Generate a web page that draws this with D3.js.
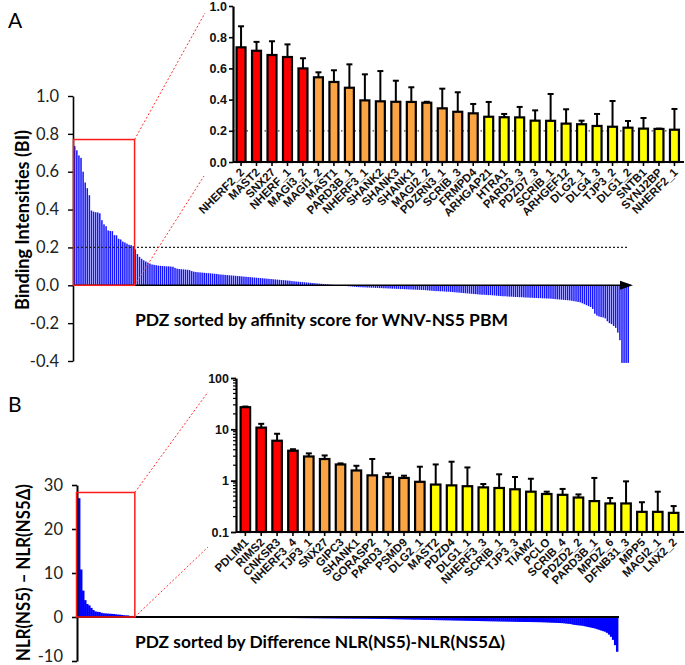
<!DOCTYPE html>
<html><head><meta charset="utf-8">
<script src="https://cdn.jsdelivr.net/npm/d3@7"></script>
<style>body{margin:0;background:#fff} svg{display:block}</style>
</head><body>
<svg id="c" width="685" height="665"></svg>
<script>
// ---------------- DATA ----------------
// Panel A: binding intensities of all PDZ domains, sorted
const mainA = [
 0.735,0.713,0.686,0.673,0.600,0.543,0.513,0.476,0.395,0.389,0.386,0.385,0.380,0.344,0.322,0.312,0.290,0.287,0.286,0.265,0.264,0.246,0.242,0.231,0.226,0.220,0.214,0.212,0.207,
 0.190,0.165,0.150,0.140,0.132,0.126,0.120,0.115,0.110,0.108,0.106,0.104,
 0.103,0.102,0.101,0.100,0.100,0.099,0.098,0.092,0.088,0.086,
 0.085,0.084,0.083,0.082,0.080,0.075,0.072,0.070,0.069,0.068,
 0.067,0.066,0.065,0.064,0.063,0.062,0.061,0.060,0.058,0.057,
 0.056,0.055,0.054,0.053,0.052,0.051,0.050,0.049,0.048,0.047,
 0.046,0.045,0.044,0.043,0.042,0.041,0.040,0.039,0.038,0.037,
 0.036,0.035,0.034,0.033,0.032,0.031,0.030,0.029,0.028,0.027,
 0.026,0.025,0.024,0.022,0.021,0.020,0.019,0.018,0.017,0.016,
 0.015,0.014,0.013,0.012,0.011,0.010,0.009,0.008,0.007,0.006,
 0.005,0.004,0.003,0.002,0.001,0.000,-0.001,-0.002,-0.003,-0.004,
 -0.005,-0.006,-0.007,-0.008,-0.009,-0.010,-0.010,-0.011,-0.011,-0.012,
 -0.012,-0.013,-0.013,-0.014,-0.014,-0.015,-0.015,-0.016,-0.016,-0.017,
 -0.017,-0.018,-0.018,-0.019,-0.019,-0.020,-0.020,-0.021,-0.021,-0.022,
 -0.022,-0.023,-0.023,-0.024,-0.024,-0.025,-0.025,-0.026,-0.027,-0.028,
 -0.029,-0.030,-0.031,-0.031,-0.032,-0.032,-0.033,-0.034,-0.034,-0.035,
 -0.036,-0.037,-0.038,-0.039,-0.040,-0.041,-0.042,-0.043,-0.044,-0.045,
 -0.046,-0.047,-0.048,-0.049,-0.050,-0.050,-0.051,-0.052,-0.052,-0.053,
 -0.054,-0.055,-0.056,-0.057,-0.058,-0.058,-0.059,-0.060,-0.060,-0.061,
 -0.062,-0.062,-0.063,-0.063,-0.064,-0.065,-0.065,-0.066,-0.066,-0.067,
 -0.067,-0.068,-0.068,-0.069,-0.069,-0.070,-0.070,-0.071,-0.072,-0.073,
 -0.074,-0.075,-0.076,-0.077,-0.078,-0.079,-0.080,-0.082,-0.084,-0.086,
 -0.088,-0.090,-0.095,-0.100,-0.105,-0.110,-0.115,-0.125,-0.150,-0.160,
 -0.165,-0.168,-0.170,-0.175,-0.190,-0.200,-0.205,-0.215,-0.225,-0.250,
 -0.290,-0.410,-0.410,-0.410,-0.410
];
const mainATicks = [1.0,0.8,0.6,0.4,0.2,0.0,-0.2,-0.4];

const insetALabels = ["NHERF2_2","MAST2","SNX27","NHERF_1","MAGI3_2","MAGI1_2","MAST1","PARD3B_1","NHERF3_1","SHANK2","SHANK3","SHANK1","MAGI2_2","PDZRN3_1","SCRIB_3","FRMPD4","ARHGAP21","HTRA1","PARD3_3","PDZD7_3","SCRIB_1","ARHGEF12","DLG2_1","DLG4_3","TJP3_2","DLG1_2","SNTB1","SYNJ2BP","NHERF2_1"];
const insetAValues = [0.735,0.713,0.686,0.673,0.600,0.543,0.513,0.476,0.395,0.389,0.386,0.385,0.380,0.344,0.322,0.312,0.290,0.287,0.286,0.265,0.264,0.246,0.242,0.231,0.226,0.220,0.214,0.212,0.207];
const insetAErrTop = [0.870,0.770,0.774,0.754,0.665,0.575,0.588,0.626,0.562,0.583,0.521,0.479,0.386,0.470,0.447,0.372,0.385,0.308,0.353,0.331,0.436,0.338,0.265,0.308,0.391,0.263,0.282,0.214,0.340];
const insetAGroups = ["r","r","r","r","r","o","o","o","o","o","o","o","o","o","o","o","y","y","y","y","y","y","y","y","y","y","y","y","y"];
const insetATicks = [0.0,0.2,0.4,0.6,0.8,1.0];

// Panel B: NLR difference of all PDZ domains, sorted
const mainB = [
 27,10.8,6.0,3.83,2.96,2.64,2.07,1.58,1.27,1.18,1.13,0.95,0.84,0.81,0.78,0.74,0.72,0.68,0.61,0.55,0.53,0.47,0.40,0.36,0.36,0.247,0.247,0.236,
 0.23,0.23,0.22,0.22,0.21,0.21,0.20,0.20,0.20,0.19,0.19,0.19,
 0.18,0.18,0.18,0.17,0.17,0.17,0.16,0.16,0.16,0.15,0.15,0.15,
 0.14,0.14,0.13,0.13,0.12,0.12,0.11,0.11,0.10,0.10,0.09,0.09,
 0.08,0.07,0.06,0.05,0.04,0.03,0.02,0.01,0.00,-0.01,-0.02,-0.03,
 -0.04,-0.05,-0.06,-0.07,-0.08,-0.09,-0.10,-0.10,-0.11,-0.12,-0.12,-0.13,
 -0.14,-0.14,-0.15,-0.15,-0.16,-0.17,-0.17,-0.18,-0.18,-0.19,-0.20,-0.20,
 -0.21,-0.21,-0.22,-0.22,-0.23,-0.23,-0.24,-0.24,-0.25,-0.25,-0.26,-0.26,
 -0.27,-0.27,-0.28,-0.28,-0.29,-0.29,-0.30,-0.30,-0.31,-0.31,-0.32,-0.32,
 -0.33,-0.33,-0.34,-0.34,-0.35,-0.35,-0.36,-0.36,-0.37,-0.37,-0.38,-0.38,
 -0.39,-0.39,-0.40,-0.40,-0.41,-0.41,-0.42,-0.42,-0.43,-0.43,-0.44,-0.44,
 -0.45,-0.45,-0.46,-0.46,-0.47,-0.48,-0.49,-0.50,-0.51,-0.52,-0.53,-0.54,
 -0.55,-0.56,-0.57,-0.58,-0.59,-0.60,-0.61,-0.62,-0.63,-0.64,-0.65,-0.66,
 -0.67,-0.68,-0.69,-0.70,-0.71,-0.72,-0.73,-0.74,-0.75,-0.76,-0.77,-0.78,
 -0.79,-0.80,-0.81,-0.82,-0.83,-0.84,-0.85,-0.86,-0.87,-0.88,-0.89,-0.90,
 -0.91,-0.92,-0.93,-0.94,-0.95,-0.96,-0.97,-0.98,-0.99,-1.00,-1.01,-1.02,
 -1.03,-1.04,-1.05,-1.06,-1.07,-1.08,-1.09,-1.10,-1.11,-1.12,-1.12,-1.13,
 -1.13,-1.14,-1.14,-1.15,-1.16,-1.17,-1.18,-1.19,-1.20,-1.22,-1.24,-1.26,
 -1.28,-1.30,-1.32,-1.34,-1.36,-1.38,-1.40,-1.45,-1.50,-1.55,-1.60,-1.70,
 -1.80,-1.85,-1.90,-1.95,-2.00,-2.10,-2.20,-2.30,-2.40,-2.50,-2.60,-2.75,
 -2.90,-3.05,-3.20,-3.35,-3.60,-4.00,-4.50,-5.20,-6.40,-7.90
];
const mainBTicks = [30,20,10,0,-10];

const insetBLabels = ["PDLIM1","RIMS2","CNKSR3","NHERF3_4","TJP3_1","SNX27","GIPC3","SHANK1","GORASP2","PARD3_1","PSMD9","DLG2_1","MAST2","PDZD4","DLG1_1","NHERF3_3","SCRIB_1","TJP3_3","TIAM2","PCLO","SCRIB_4","PDZD2_2","PARD3B_1","MPDZ_6","DFNB31_3","MPP5","MAGI2_1","LNX2_2"];
const insetBValues = [27,10.8,6.0,3.83,2.96,2.64,2.07,1.58,1.27,1.18,1.13,0.95,0.84,0.81,0.78,0.74,0.72,0.68,0.61,0.55,0.53,0.47,0.40,0.36,0.36,0.247,0.247,0.236];
const insetBErrTop = [27.8,12.8,8.2,4.1,3.4,3.1,2.17,1.95,2.64,1.39,1.25,1.87,2.07,2.34,1.81,0.86,1.33,1.18,1.09,0.61,0.69,0.54,1.13,0.46,0.97,0.38,0.61,0.32];
const insetBGroups = ["r","r","r","r","o","o","o","o","o","o","o","o","y","y","y","y","y","y","y","y","y","y","y","y","y","y","y","y"];
const insetBTicks = [0.1,1,10,100];

const groupColor = {r:"#ff0000", o:"#fba443", y:"#ffff00"};

// ---------------- DRAW ----------------
const svg = d3.select("#c");
const FONT = "Lato, 'Open Sans', sans-serif";
const AFONT = "'Liberation Sans', Arial, sans-serif";
const dash = s => String(s).replace("\u2212","-");

// ===== Panel A main =====
const xA = d3.scaleBand().domain(d3.range(mainA.length)).range([74, 629]).paddingInner(0.28);
const yA = d3.scaleLinear().domain([-0.4, 1.0]).range([361, 96]);
const gA = svg.append("g");

gA.append("g").selectAll("rect").data(mainA).join("rect")
  .attr("x", (d,i) => xA(i)).attr("width", xA.bandwidth())
  .attr("y", d => Math.min(yA(d), yA(0))).attr("height", d => Math.abs(yA(d) - yA(0)))
  .attr("fill", "#1414ff");

gA.append("line").attr("x1", 73).attr("x2", 628).attr("y1", yA(0.2)).attr("y2", yA(0.2))
  .attr("stroke", "#222").attr("stroke-width", 1.3).attr("stroke-dasharray", "2,2");

const axA = gA.append("g").attr("transform", "translate(73,0)")
  .call(d3.axisLeft(yA).tickValues(mainATicks).tickFormat(d => dash(d3.format(".1f")(d))).tickSize(5).tickSizeOuter(0).tickPadding(9));
axA.select(".domain").attr("stroke-width", 1.6);
axA.selectAll(".tick line").attr("stroke-width", 1.4);
axA.selectAll("text").attr("font-family", FONT).attr("font-size", 16.5).attr("fill", "#222");

gA.append("line").attr("x1", 73).attr("x2", 622).attr("y1", yA(0)).attr("y2", yA(0)).attr("stroke", "#000").attr("stroke-width", 1.6);
gA.append("path").attr("d", `M620,${yA(0)-4.5}L633,${yA(0)}L620,${yA(0)+4.5}Z`).attr("fill", "#000");

gA.append("text").attr("x", 135).attr("y", 326)
  .attr("font-family", FONT).attr("font-weight", 700).attr("font-size", 17.5)
  .attr("textLength", 373).attr("lengthAdjust", "spacingAndGlyphs")
  .text("PDZ sorted by affinity score for WNV-NS5 PBM");
gA.append("text").attr("transform", "translate(29,310) rotate(-90)")
  .attr("font-family", FONT).attr("font-weight", 700).attr("font-size", 19)
  .attr("textLength", 180).attr("lengthAdjust", "spacingAndGlyphs")
  .text("Binding Intensities (BI)");
svg.append("text").attr("x", 8).attr("y", 28).attr("font-family", FONT).attr("font-size", 21).text("A");

const boxAR = xA.range()[0] + insetALabels.length * xA.step();
gA.append("rect").attr("x", 73.5).attr("y", yA(0.77)).attr("width", boxAR - 73.5).attr("height", yA(0) - yA(0.77))
  .attr("fill", "none").attr("stroke", "#ff1a1a").attr("stroke-width", 1.5);
gA.append("line").attr("x1", boxAR).attr("y1", yA(0.77)).attr("x2", 205).attr("y2", 13)
  .attr("stroke", "#ff3030").attr("stroke-width", 1).attr("stroke-dasharray", "2,2");
gA.append("line").attr("x1", boxAR).attr("y1", yA(0)).attr("x2", 204).attr("y2", 176)
  .attr("stroke", "#ff3030").attr("stroke-width", 1).attr("stroke-dasharray", "2,2");

// ===== Panel A inset =====
const xIA = d3.scaleBand().domain(insetALabels).range([233, 682.5]).paddingInner(0.42).paddingOuter(0.23);
const yIA = d3.scaleLinear().domain([0, 1]).range([162, 6]);
const gIA = svg.append("g");
gIA.append("line").attr("x1", 233).attr("x2", 680).attr("y1", yIA(0.2)).attr("y2", yIA(0.2))
  .attr("stroke", "#444").attr("stroke-width", 1.2).attr("stroke-dasharray", "1.5,3");
insetALabels.forEach((l, i) => {
  const cx = xIA(l) + xIA.bandwidth()/2;
  gIA.append("line").attr("x1", cx).attr("x2", cx).attr("y1", yIA(insetAValues[i])).attr("y2", yIA(insetAErrTop[i])).attr("stroke", "#000").attr("stroke-width", 2);
  gIA.append("line").attr("x1", cx-3).attr("x2", cx+3).attr("y1", yIA(insetAErrTop[i])).attr("y2", yIA(insetAErrTop[i])).attr("stroke", "#000").attr("stroke-width", 2);
});
gIA.append("g").selectAll("rect").data(insetALabels).join("rect")
  .attr("x", d => xIA(d)).attr("width", xIA.bandwidth())
  .attr("y", (d,i) => yIA(insetAValues[i])).attr("height", (d,i) => yIA(0) - yIA(insetAValues[i]))
  .attr("fill", (d,i) => groupColor[insetAGroups[i]]).attr("stroke", "#000").attr("stroke-width", 2.2);
const axIA = gIA.append("g").attr("transform", "translate(233,0)")
  .call(d3.axisLeft(yIA).tickValues(insetATicks).tickFormat(d3.format(".1f")).tickSize(4).tickSizeOuter(0).tickPadding(2));
axIA.select(".domain").attr("stroke-width", 2.2);
axIA.selectAll(".tick line").attr("stroke-width", 1.6);
axIA.selectAll("text").attr("font-family", AFONT).attr("font-weight", 700).attr("font-size", 12.5).attr("fill", "#111");
const axIAx = gIA.append("g").attr("transform", `translate(0,${yIA(0)})`)
  .call(d3.axisBottom(xIA).tickSize(4).tickSizeOuter(0).tickFormat(""));
axIAx.select(".domain").attr("d", "M233,0H684").attr("stroke-width", 2.2);
axIAx.selectAll(".tick line").attr("stroke-width", 1.6);
gIA.append("g").selectAll("text").data(insetALabels).join("text")
  .attr("transform", d => `translate(${xIA(d) + xIA.bandwidth()/2 + 4},${yIA(0)+11}) rotate(-45)`)
  .attr("text-anchor", "end").attr("font-family", AFONT).attr("font-weight", 700).attr("font-size", 11.5).attr("fill", "#111")
  .text(d => d);

// ===== Panel B main =====
const xB = d3.scaleBand().domain(d3.range(mainB.length)).range([78, 618]).padding(0);
const yB = d3.scaleLinear().domain([-10, 30]).range([661, 485]);
const gB = svg.append("g");
gB.append("g").selectAll("rect").data(mainB).join("rect")
  .attr("x", (d,i) => xB(i)).attr("width", xB.bandwidth() + 0.4)
  .attr("y", d => Math.min(yB(d), yB(0))).attr("height", d => Math.abs(yB(d) - yB(0)))
  .attr("fill", "#0000ff");
const axB = gB.append("g").attr("transform", "translate(77,0)")
  .call(d3.axisLeft(yB).tickValues(mainBTicks).tickFormat(d => dash(d)).tickSize(5).tickSizeOuter(0).tickPadding(9));
axB.select(".domain").attr("stroke-width", 2);
axB.selectAll(".tick line").attr("stroke-width", 1.6);
axB.selectAll("text").attr("font-family", FONT).attr("font-size", 16.5).attr("fill", "#222");
axB.selectAll(".tick").filter(d => d === -10).select("text").attr("dy", "0.05em");
gB.append("line").attr("x1", 77).attr("x2", 619).attr("y1", yB(0)).attr("y2", yB(0)).attr("stroke", "#000").attr("stroke-width", 2);
gB.append("text").attr("x", 135).attr("y", 648)
  .attr("font-family", FONT).attr("font-weight", 700).attr("font-size", 17.5)
  .attr("textLength", 370).attr("lengthAdjust", "spacingAndGlyphs")
  .text("PDZ sorted by Difference NLR(NS5)-NLR(NS5\u0394)");
gB.append("text").attr("transform", "translate(30,661) rotate(-90)")
  .attr("font-family", FONT).attr("font-weight", 700).attr("font-size", 19)
  .attr("textLength", 177).attr("lengthAdjust", "spacingAndGlyphs")
  .text("NLR(NS5) \u2013 NLR(NS5\u0394)");
svg.append("text").attr("x", 8).attr("y", 412).attr("font-family", FONT).attr("font-size", 21).text("B");

const boxBR = xB.range()[0] + insetBLabels.length * xB.step();
gB.append("rect").attr("x", 76.5).attr("y", yB(28.3)).attr("width", boxBR - 76.5).attr("height", yB(0) - yB(28.3))
  .attr("fill", "none").attr("stroke", "#ff1a1a").attr("stroke-width", 1.5);
gB.append("line").attr("x1", boxBR).attr("y1", yB(28.3)).attr("x2", 208).attr("y2", 392)
  .attr("stroke", "#ff3030").attr("stroke-width", 1).attr("stroke-dasharray", "2,2");
gB.append("line").attr("x1", boxBR).attr("y1", yB(0)).attr("x2", 208).attr("y2", 547)
  .attr("stroke", "#ff3030").attr("stroke-width", 1).attr("stroke-dasharray", "2,2");

// ===== Panel B inset =====
const xIB = d3.scaleBand().domain(insetBLabels).range([236, 683]).paddingInner(0.4).paddingOuter(0.29);
const yIB = d3.scaleLog().domain([0.1, 100]).range([532, 378]);
const gIB = svg.append("g");
insetBLabels.forEach((l, i) => {
  const cx = xIB(l) + xIB.bandwidth()/2;
  gIB.append("line").attr("x1", cx).attr("x2", cx).attr("y1", yIB(insetBValues[i])).attr("y2", yIB(insetBErrTop[i])).attr("stroke", "#000").attr("stroke-width", 2);
  gIB.append("line").attr("x1", cx-3).attr("x2", cx+3).attr("y1", yIB(insetBErrTop[i])).attr("y2", yIB(insetBErrTop[i])).attr("stroke", "#000").attr("stroke-width", 2);
});
gIB.append("g").selectAll("rect").data(insetBLabels).join("rect")
  .attr("x", d => xIB(d)).attr("width", xIB.bandwidth())
  .attr("y", (d,i) => yIB(insetBValues[i])).attr("height", (d,i) => yIB(0.1) - yIB(insetBValues[i]))
  .attr("fill", (d,i) => groupColor[insetBGroups[i]]).attr("stroke", "#000").attr("stroke-width", 2.2);
const minor = [];
[0.1,1,10].forEach(dec => { for (let k = 2; k <= 9; k++) minor.push(dec*k); });
gIB.append("g").selectAll("line").data(minor).join("line")
  .attr("x1", 233).attr("x2", 236).attr("y1", d => yIB(d)).attr("y2", d => yIB(d)).attr("stroke", "#000").attr("stroke-width", 1.2);
const axIB = gIB.append("g").attr("transform", "translate(236,0)")
  .call(d3.axisLeft(yIB).tickValues(insetBTicks).tickFormat(d => String(d)).tickSize(5).tickSizeOuter(0).tickPadding(2));
axIB.select(".domain").attr("stroke-width", 2.2);
axIB.selectAll(".tick line").attr("stroke-width", 1.8);
axIB.selectAll("text").attr("font-family", AFONT).attr("font-weight", 700).attr("font-size", 12.5).attr("fill", "#111");
const axIBx = gIB.append("g").attr("transform", `translate(0,${yIB(0.1)})`)
  .call(d3.axisBottom(xIB).tickSize(4).tickSizeOuter(0).tickFormat(""));
axIBx.select(".domain").attr("d", "M236,0H684").attr("stroke-width", 2.2);
axIBx.selectAll(".tick line").attr("stroke-width", 1.6);
gIB.append("g").selectAll("text").data(insetBLabels).join("text")
  .attr("transform", d => `translate(${xIB(d) + xIB.bandwidth()/2 + 4},${yIB(0.1)+11}) rotate(-45)`)
  .attr("text-anchor", "end").attr("font-family", AFONT).attr("font-weight", 700).attr("font-size", 11.5).attr("fill", "#111")
  .text(d => d);
</script>
</body></html>
